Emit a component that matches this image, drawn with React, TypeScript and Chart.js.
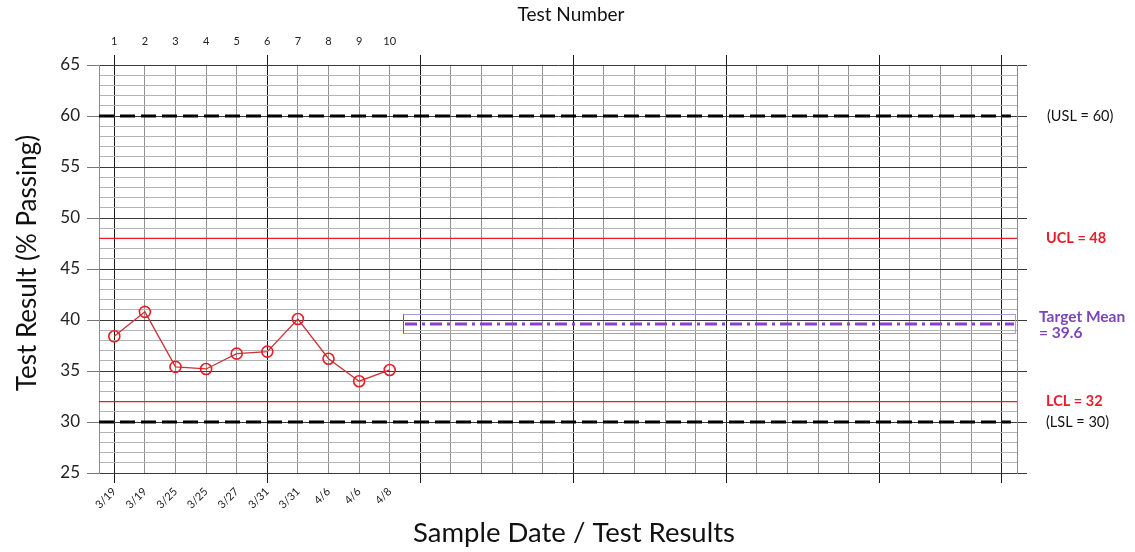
import React, { useEffect, useRef } from "react";
import { Chart, registerables } from "chart.js";

Chart.register(...registerables);

const testNumbers = [1, 2, 3, 4, 5, 6, 7, 8, 9, 10];
const sampleDates = ["3/19", "3/19", "3/25", "3/25", "3/27", "3/31", "3/31", "4/6", "4/6", "4/8"];
const results = [38.4, 40.8, 35.4, 35.2, 36.7, 36.9, 40.1, 36.2, 34.0, 35.1];

const totalTests = 30;
const majorTests = [1, 6, 11, 16, 21, 26, 30];
const yMin = 25;
const yMax = 65;
const yLabelStep = 5;

const USL = 60;
const UCL = 48;
const TARGET = 39.6;
const LCL = 32;
const LSL = 30;

const specStart = 0.5;
const specEnd = 30.3;
const controlStart = 0.5;
const controlEnd = 30.5;
const targetStart = 10.5;
const targetEnd = 30.4;

const FONT = "Lato, 'Open Sans', sans-serif";
const RED = "#e81c2c";
const PURPLE = "#7d45b8";

const isMajorX = (v: number) => majorTests.includes(v);
const isMajorY = (v: number) => v % yLabelStep === 0;

const overlayPlugin = {
  id: "overlay",
  afterDatasetsDraw(chart: any) {
    const { ctx } = chart;
    const xs = chart.scales.x;
    const ys = chart.scales.y;
    const bx0 = xs.getPixelForValue(targetStart) - 2;
    const bx1 = xs.getPixelForValue(targetEnd) + 1;
    const by = ys.getPixelForValue(TARGET);
    ctx.save();
    ctx.strokeStyle = "#a898dc";
    ctx.lineWidth = 1;
    ctx.strokeRect(Math.round(bx0) + 0.5, Math.round(by - 10) + 0.5, bx1 - bx0, 19);
    ctx.strokeStyle = "#6a6090";
    ctx.beginPath();
    ctx.moveTo(Math.round(bx0) + 0.5, Math.round(by - 10) + 0.5);
    ctx.lineTo(Math.round(bx0) + 0.5, Math.round(by + 9) + 0.5);
    ctx.stroke();
    ctx.restore();
  },
  afterDraw(chart: any) {
    const { ctx, chartArea } = chart;
    const ys = chart.scales.y;
    ctx.save();
    ctx.textBaseline = "middle";
    ctx.textAlign = "left";
    const lx = chartArea.right + 30;
    ctx.font = `14.5px ${FONT}`;
    ctx.fillStyle = "#111";
    ctx.fillText(`(USL = ${USL})`, lx, ys.getPixelForValue(USL));
    ctx.fillText(`(LSL = ${LSL})`, lx - 1, ys.getPixelForValue(LSL));
    ctx.font = `bold 14.5px ${FONT}`;
    ctx.fillStyle = RED;
    ctx.fillText(`UCL = ${UCL}`, lx - 1, ys.getPixelForValue(UCL));
    ctx.fillText(`LCL = ${LCL}`, lx - 1, ys.getPixelForValue(LCL));
    ctx.fillStyle = PURPLE;
    ctx.font = `bold 15.5px ${FONT}`;
    const ty = ys.getPixelForValue(TARGET);
    ctx.fillText("Target Mean", lx - 8, ty - 7);
    ctx.fillText(`= ${TARGET}`, lx - 8, ty + 9);

    const cx = (chartArea.left + chartArea.right) / 2 + 13;
    ctx.textAlign = "center";
    ctx.fillStyle = "#111";
    ctx.font = `19px ${FONT}`;
    ctx.fillText("Test Number", cx, 15);
    ctx.font = `27.5px ${FONT}`;
    ctx.fillText("Sample Date / Test Results", cx + 3, 533);
    ctx.translate(28, (chartArea.top + chartArea.bottom) / 2 - 6);
    ctx.rotate(-Math.PI / 2);
    ctx.font = `26px ${FONT}`;
    ctx.fillText("Test Result (% Passing)", 0, 0);
    ctx.restore();
  },
};

const buildXTicks = (scale: any) => {
  const t = [];
  for (let i = 1; i <= totalTests; i++) t.push({ value: i });
  scale.ticks = t;
};
const buildYTicks = (scale: any) => {
  const t = [];
  for (let v = yMin; v <= yMax; v++) t.push({ value: v });
  scale.ticks = t;
};

export default function App() {
  const ref = useRef<HTMLCanvasElement>(null);
  useEffect(() => {
    if (!ref.current) return;
    const line = (y: number, x0: number, x1: number) => [
      { x: x0, y },
      { x: x1, y },
    ];
    const chart = new Chart(ref.current, {
      type: "line",
      data: {
        datasets: [
          {
            label: "Test Result",
            data: testNumbers.map((n, i) => ({ x: n, y: results[i] })),
            borderColor: "#c8343a",
            borderWidth: 1.3,
            pointRadius: 5.5,
            pointBorderWidth: 1.6,
            pointBorderColor: "#ec1c24",
            pointBackgroundColor: "rgba(0,0,0,0)",
            order: 0,
          },
          {
            label: "USL",
            data: line(USL, specStart, specEnd),
            borderColor: "#000",
            borderWidth: 3,
            borderDash: [15, 6],
            pointRadius: 0,
            order: 2,
          },
          {
            label: "LSL",
            data: line(LSL, specStart, specEnd),
            borderColor: "#000",
            borderWidth: 3,
            borderDash: [15, 6],
            pointRadius: 0,
            order: 2,
          },
          {
            label: "UCL",
            data: line(UCL, controlStart, controlEnd),
            borderColor: RED,
            borderWidth: 1.3,
            pointRadius: 0,
            order: 3,
          },
          {
            label: "LCL",
            data: line(LCL, controlStart, controlEnd),
            borderColor: RED,
            borderWidth: 1.3,
            pointRadius: 0,
            order: 3,
          },
          {
            label: "Target Mean",
            data: line(TARGET, targetStart, targetEnd),
            borderColor: "#8b3fd0",
            borderWidth: 3,
            borderDash: [12, 5, 3, 5],
            pointRadius: 0,
            order: 1,
          },
        ],
      },
      options: {
        animation: false,
        responsive: true,
        maintainAspectRatio: false,
        layout: { padding: 0 },
        plugins: { legend: { display: false }, tooltip: { enabled: false } },
        scales: {
          x: {
            type: "linear",
            position: "bottom",
            min: 0.5,
            max: 30.5,
            afterBuildTicks: buildXTicks,
            afterFit: (s: any) => {
              s.height = 79;
            },
            ticks: {
              autoSkip: false,
              maxRotation: 45,
              minRotation: 45,
              padding: 2,
              color: "#222",
              font: { family: FONT, size: 11 },
              callback: (v: any) => sampleDates[Number(v) - 1] ?? "",
            },
            grid: {
              color: (c: any) => (isMajorX(c.tick?.value) ? "#1a1a1a" : "#909090"),
              tickColor: (c: any) => (isMajorX(c.tick?.value) ? "#1a1a1a" : "rgba(0,0,0,0)"),
              tickLength: 10,
              lineWidth: 1,
            },
            border: { display: false },
          },
          xTop: {
            type: "linear",
            position: "top",
            min: 0.5,
            max: 30.5,
            afterBuildTicks: buildXTicks,
            afterFit: (s: any) => {
              s.height = 65;
            },
            ticks: {
              autoSkip: false,
              maxRotation: 0,
              padding: 7,
              color: "#222",
              font: { family: FONT, size: 11 },
              callback: (v: any) => (testNumbers.includes(Number(v)) ? String(v) : ""),
            },
            grid: {
              drawOnChartArea: false,
              tickColor: (c: any) => (isMajorX(c.tick?.value) ? "#1a1a1a" : "rgba(0,0,0,0)"),
              tickLength: 10,
            },
            border: { display: false },
          },
          y: {
            type: "linear",
            position: "left",
            min: yMin,
            max: yMax,
            afterBuildTicks: buildYTicks,
            afterFit: (s: any) => {
              s.width = 99;
            },
            ticks: {
              autoSkip: false,
              padding: 7,
              color: "#222",
              font: { family: FONT, size: 17 },
              callback: (v: any) => (isMajorY(Number(v)) ? String(v) : ""),
            },
            grid: {
              color: (c: any) => (isMajorY(c.tick?.value) ? "#3a3a3a" : "#b4b4b4"),
              tickColor: (c: any) => (isMajorY(c.tick?.value) ? "#777" : "rgba(0,0,0,0)"),
              tickLength: 12,
            },
            border: { display: true, color: "#8c8c8c" },
          },
          yRight: {
            type: "linear",
            position: "right",
            min: yMin,
            max: yMax,
            afterBuildTicks: buildYTicks,
            afterFit: (s: any) => {
              s.width = 118;
            },
            ticks: { display: false },
            grid: {
              drawOnChartArea: false,
              tickColor: (c: any) => (isMajorY(c.tick?.value) ? "#3a3a3a" : "rgba(0,0,0,0)"),
              tickLength: 10,
            },
            border: { display: true, color: "#8c8c8c" },
          },
        },
      },
      plugins: [overlayPlugin],
    } as any);
    return () => chart.destroy();
  }, []);
  return (
    <div style={{ position: "absolute", left: 0, top: 0, width: 1135, height: 552, background: "#fff" }}>
      <canvas ref={ref} />
    </div>
  );
}
